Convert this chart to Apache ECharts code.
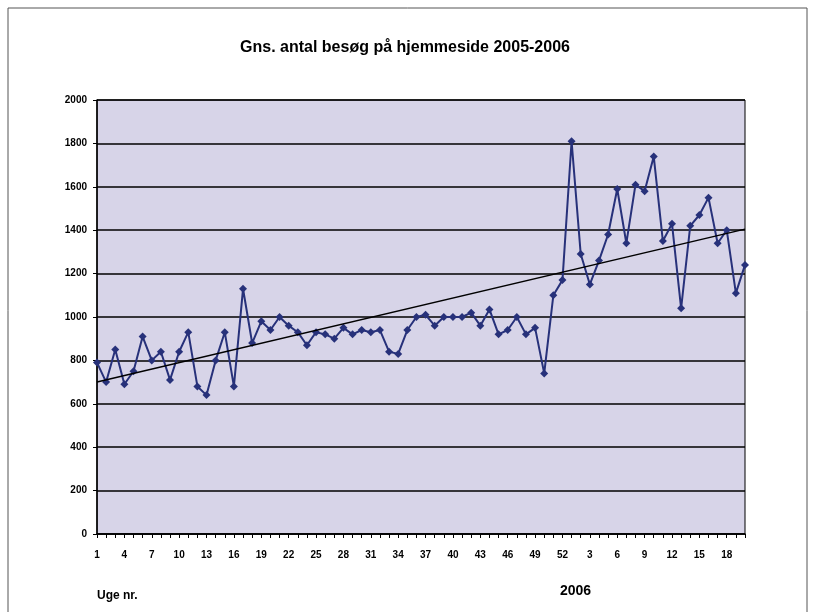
<!DOCTYPE html>
<html>
<head>
<meta charset="utf-8">
<script src="https://cdn.jsdelivr.net/npm/echarts@6/dist/echarts.min.js"></script>
<style>
  html, body { margin: 0; padding: 0; background: #fff; }
  #chart { width: 816px; height: 612px; }
</style>
</head>
<body>
<div id="chart"></div>
<script>
// uger 2005 (1-52) og 2006 (1-20)
var weeks2005 = [];
for (var i = 1; i <= 52; i++) weeks2005.push(String(i));
var weeks2006 = [];
for (var j = 1; j <= 20; j++) weeks2006.push(String(j));
var categories = weeks2005.concat(weeks2006);

// besøg pr. uge
var visits2005 = [790, 700, 850, 690, 750, 910, 800, 840, 710, 840,
                  930, 680, 640, 800, 930, 680, 1130, 880, 980, 940,
                  1000, 960, 930, 870, 930, 920, 900, 950, 920, 940,
                  930, 940, 840, 830, 940, 1000, 1010, 960, 1000, 1000,
                  1000, 1020, 960, 1035, 920, 940, 1000, 920, 950, 740,
                  1100, 1170];
var visits2006 = [1810, 1290, 1150, 1260, 1380, 1590, 1340, 1610, 1580, 1740,
                  1350, 1430, 1040, 1420, 1470, 1550, 1340, 1400, 1110, 1240];
var visits = visits2005.concat(visits2006);

// tendenslinje (start / slut)
var trendEnds = [700, 1405];

var yTicks = [0, 200, 400, 600, 800, 1000, 1200, 1400, 1600, 1800, 2000];

var myChart = echarts.init(document.getElementById('chart'));

var option = {
    backgroundColor: '#fff',
    animation: false,
    title: {
        text: 'Gns. antal besøg på hjemmeside 2005-2006',
        left: 400,
        top: 35,
        textAlign: 'center',
        textStyle: {
            fontFamily: 'Liberation Sans',
            fontSize: 16,
            fontWeight: 'bold',
            color: '#000'
        }
    },
    grid: {
        left: 97,
        right: 71,
        top: 100,
        bottom: 78,
        show: true,
        backgroundColor: '#d7d4e8',
        borderColor: '#000',
        borderWidth: 1
    },
    xAxis: {
        type: 'category',
        data: categories,
        boundaryGap: false,
        axisLine: { lineStyle: { color: '#000', width: 1.5 } },
        axisTick: { show: true, interval: 0, length: 4, lineStyle: { color: '#000' } },
        axisLabel: {
            interval: 2,
            margin: 16,
            fontFamily: 'Liberation Sans',
            fontSize: 10,
            fontWeight: 'bold',
            color: '#000'
        },
        splitLine: { show: false }
    },
    yAxis: {
        type: 'value',
        min: yTicks[0],
        max: yTicks[yTicks.length - 1],
        interval: 200,
        axisLine: { show: true, lineStyle: { color: '#000', width: 1.5 } },
        axisTick: { show: true, length: 4, lineStyle: { color: '#000' } },
        axisLabel: {
            margin: 10,
            fontFamily: 'Liberation Sans',
            fontSize: 10,
            fontWeight: 'bold',
            color: '#000',
            formatter: function (v) { return String(v); }
        },
        splitLine: { lineStyle: { color: '#000', width: 1.5 } }
    },
    series: [
        {
            name: 'Besøg',
            type: 'line',
            data: visits,
            symbol: 'diamond',
            symbolSize: 8,
            showSymbol: true,
            showAllSymbol: true,
            lineStyle: { color: '#27317a', width: 2 },
            itemStyle: { color: '#27317a' },
            markLine: {
                silent: true,
                symbol: ['none', 'none'],
                label: { show: false },
                lineStyle: { color: '#000', width: 1.5, type: 'solid' },
                data: [[
                    { coord: [0, trendEnds[0]] },
                    { coord: [categories.length - 1, trendEnds[1]] }
                ]]
            }
        }
    ],
    graphic: [
        {
            type: 'text',
            left: 97,
            top: 590,
            style: {
                text: 'Uge nr.',
                fontFamily: 'Liberation Sans',
                fontSize: 12,
                fontWeight: 'bold',
                fill: '#000'
            }
        },
        {
            type: 'text',
            left: 560,
            top: 584,
            style: {
                text: '2006',
                fontFamily: 'Liberation Sans',
                fontSize: 14,
                fontWeight: 'bold',
                fill: '#000'
            }
        },
        {
            type: 'rect',
            shape: { x: 8, y: 8, width: 799, height: 620 },
            style: { fill: 'none', stroke: '#555', lineWidth: 1 },
            silent: true
        }
    ]
};

myChart.setOption(option);
</script>
</body>
</html>
